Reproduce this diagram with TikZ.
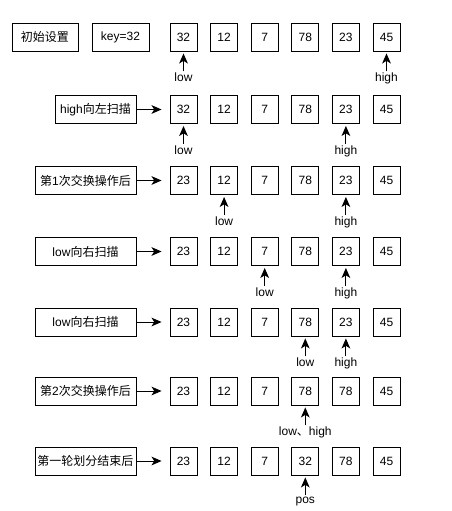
\documentclass[tikz,border=0pt]{standalone}
\usepackage{fontspec}
\setmainfont{Liberation Sans}
\newfontfamily\cjk{Noto Sans CJK SC}
\usetikzlibrary{positioning,arrows.meta}
\begin{document}
\begin{tikzpicture}[x=0.75pt,y=-0.75pt,>={Stealth[length=7.5pt,width=6.5pt,inset=2pt]},font=\small,
    cell/.style={draw,line width=0.7pt,minimum width=20.25pt,minimum height=21pt,inner sep=0pt},
    stepbox/.style={draw,line width=0.7pt,minimum height=21pt,inner sep=0pt},
    ptr/.style={inner sep=1pt,below=15pt of #1},
    ptrline/.style={->,line width=0.7pt,shorten >=1.5pt}]
  \useasboundingbox (0,0) rectangle (452,511);
  % 每一行的数组
  \foreach \r/\y/\vals in {1/37/{32,12,7,78,23,45},2/109.5/{32,12,7,78,23,45},
      3/180.5/{23,12,7,78,23,45},4/251.5/{23,12,7,78,23,45},5/322/{23,12,7,78,23,45},
      6/391/{23,12,7,78,78,45},7/461/{23,12,7,32,78,45}}
    \foreach \v [count=\c] in \vals
      \node[cell] (b\r-\c) at ({142.9+40.6*\c},\y) {\v};
  % 左边的说明框
  \node[stepbox,minimum width=49.5pt] (init) at (45,37) {\cjk 初始设置};
  \node[stepbox,minimum width=42.75pt] (key) at (120.5,37) {key=32};
  \node[stepbox,minimum width=60.75pt] (lab2) at (95.5,109.5) {high{\cjk 向左扫描}};
  \node[stepbox,minimum width=75.75pt] (lab3) at (85.5,180.5) {{\cjk 第}1{\cjk 次交换操作后}};
  \node[stepbox,minimum width=75.75pt] (lab4) at (85.5,251.5) {low{\cjk 向右扫描}};
  \node[stepbox,minimum width=75.75pt] (lab5) at (85.5,322) {low{\cjk 向右扫描}};
  \node[stepbox,minimum width=75.75pt] (lab6) at (85.5,391) {{\cjk 第}2{\cjk 次交换操作后}};
  \node[stepbox,minimum width=75.75pt] (lab7) at (85.5,461) {\cjk 第一轮划分结束后};
  \foreach \r in {2,...,7}
    \draw[->,line width=0.7pt,shorten >=6pt] (lab\r.east) -- (b\r-1.west);
  % low / high 指针
  \foreach \r/\c/\t [count=\k] in {1/1/low,1/6/high,2/1/low,2/5/high,3/2/low,3/5/high,
      4/3/low,4/5/high,5/4/low,5/5/high,6/4/{low{\cjk 、}high},7/4/pos}
  {
    \node[ptr=b\r-\c] (p\k) {\t};
    \draw[ptrline] (p\k.north) -- (b\r-\c.south);
  }
\end{tikzpicture}
\end{document}
